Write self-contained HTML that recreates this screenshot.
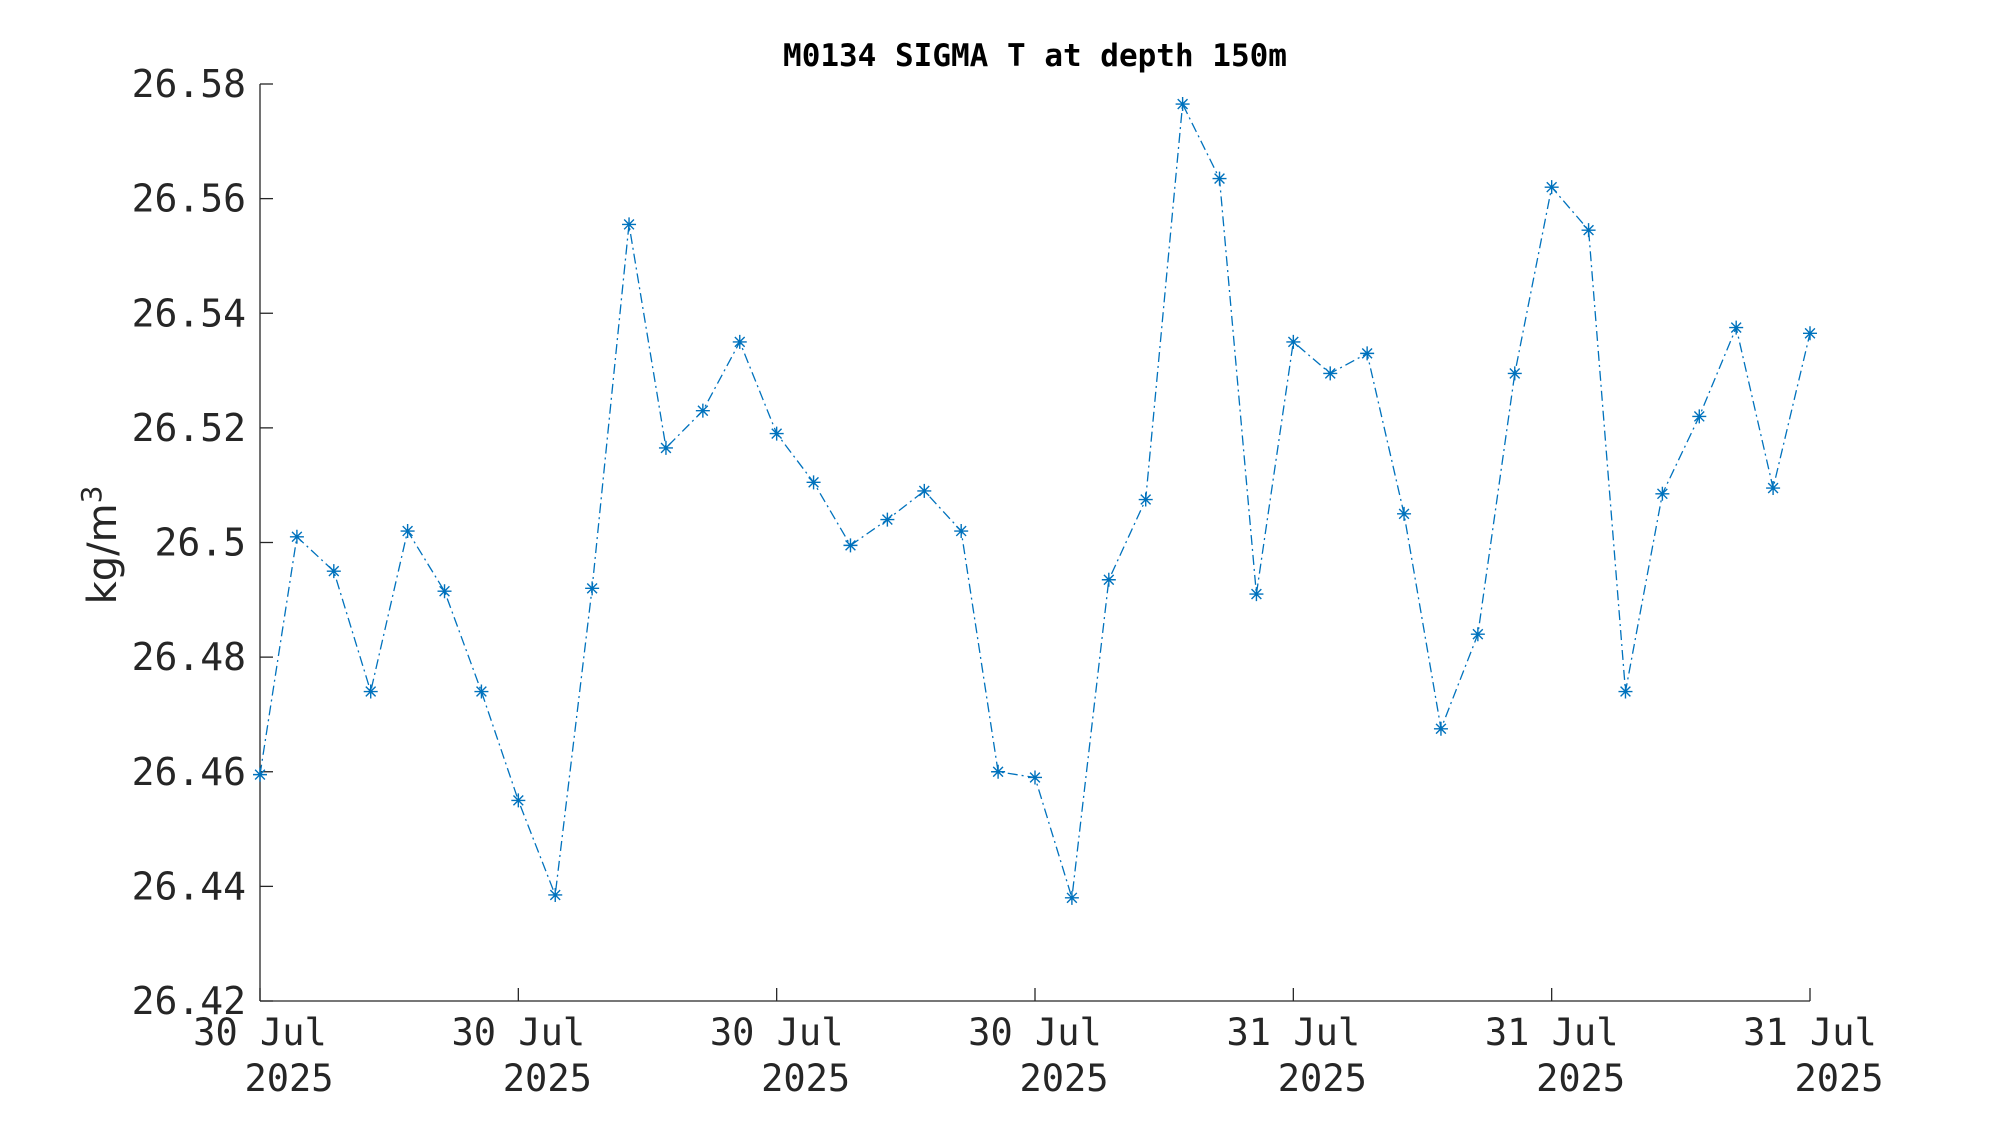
<!DOCTYPE html>
<html><head><meta charset="utf-8"><style>
html,body{margin:0;padding:0;background:#fff;}
svg{display:block;font-family:"DejaVu Sans Mono","Liberation Mono",monospace;}
</style></head><body>
<svg id="chart" width="2000" height="1125" viewBox="0 0 2000 1125" xmlns="http://www.w3.org/2000/svg">
<rect width="2000" height="1125" fill="#fff"/>
<text x="1035" y="66" text-anchor="middle" font-size="31" font-weight="bold" fill="#000">M0134 SIGMA T at depth 150m</text>
<text transform="translate(116,545) rotate(-90)" text-anchor="middle" font-family="DejaVu Sans, sans-serif" font-size="40" fill="#262626">kg/m<tspan dy="-15" font-size="28">3</tspan></text>
<g id="axes"></g>
<g id="series"></g>
</svg>
<script>
const yTicks = [26.42, 26.44, 26.46, 26.48, 26.5, 26.52, 26.54, 26.56, 26.58];
const yTickLabels = ["26.42","26.44","26.46","26.48","26.5","26.52","26.54","26.56","26.58"];
const xTickIdx = [0, 7, 14, 21, 28, 35, 42];
const xTickLine1 = ["30 Jul","30 Jul","30 Jul","30 Jul","31 Jul","31 Jul","31 Jul"];
const xTickLine2 = ["2025","2025","2025","2025","2025","2025","2025"];
const sigmaT = [26.4595,26.501,26.495,26.474,26.502,26.4915,26.474,26.455,26.4385,26.492,
26.5555,26.5165,26.523,26.535,26.519,26.5105,26.4995,26.504,26.509,26.502,
26.460,26.459,26.438,26.4935,26.5075,26.5765,26.5635,26.491,26.535,26.5295,
26.533,26.505,26.4675,26.484,26.5295,26.562,26.5545,26.474,26.5085,26.522,
26.5375,26.5095,26.5365];

const NS="http://www.w3.org/2000/svg";
const L=260,R=1810,T=84,B=1001;
const yMin=26.42,yMax=26.58,xMax=42;
function xs(i){return L+(R-L)*i/xMax;}
function ys(v){return B-(B-T)*(v-yMin)/(yMax-yMin);}
function mk(tag,attrs,parent){const e=document.createElementNS(NS,tag);for(const k in attrs)e.setAttribute(k,attrs[k]);parent.appendChild(e);return e;}
const ax=document.getElementById('axes');
const col="#262626";
let e=mk('line',{x1:L,y1:T,x2:L,y2:B,stroke:col,'stroke-width':1.3},ax);


e=mk('line',{x1:L,y1:B,x2:R,y2:B,stroke:col,'stroke-width':1.3},ax);


yTicks.forEach((v,k)=>{
  const y=ys(v);
  const t=mk('line',{x1:L,y1:y,x2:L+13,y2:y,stroke:col,'stroke-width':1.3},ax);
  
  
  const tx=mk('text',{x:L-14,y:y+13,'text-anchor':'end','font-size':38,fill:col},ax);
  tx.textContent=yTickLabels[k];
  
  
});
xTickIdx.forEach((i,k)=>{
  const x=xs(i);
  const t=mk('line',{x1:x,y1:B,x2:x,y2:B-13,stroke:col,'stroke-width':1.3},ax);
  
  
  const a=mk('text',{x:x,y:1045,'text-anchor':'middle','font-size':37,fill:col},ax);
  a.textContent=xTickLine1[k];
  
  
  const b=mk('text',{x:x+29,y:1091,'text-anchor':'middle','font-size':37,fill:col},ax);
  b.textContent=xTickLine2[k];
  
  
});
const sg=document.getElementById('series');
const blue="#0072BD";
const pts=sigmaT.map((v,i)=>xs(i).toFixed(1)+","+ys(v).toFixed(1)).join(" ");
const pl=mk('polyline',{points:pts,fill:'none',stroke:blue,'stroke-width':1.3,'stroke-dasharray':'10 4 2 4'},sg);


sigmaT.forEach((v,i)=>{
  const x=xs(i),y=ys(v),s=7;
  const d=`M${x-s},${y}H${x+s}M${x},${y-s}V${y+s}M${x-s*0.7},${y-s*0.7}L${x+s*0.7},${y+s*0.7}M${x-s*0.7},${y+s*0.7}L${x+s*0.7},${y-s*0.7}`;
  const m=mk('path',{d:d,stroke:blue,'stroke-width':1.4,fill:'none'},sg);
  
  
});
</script>
</body></html>
